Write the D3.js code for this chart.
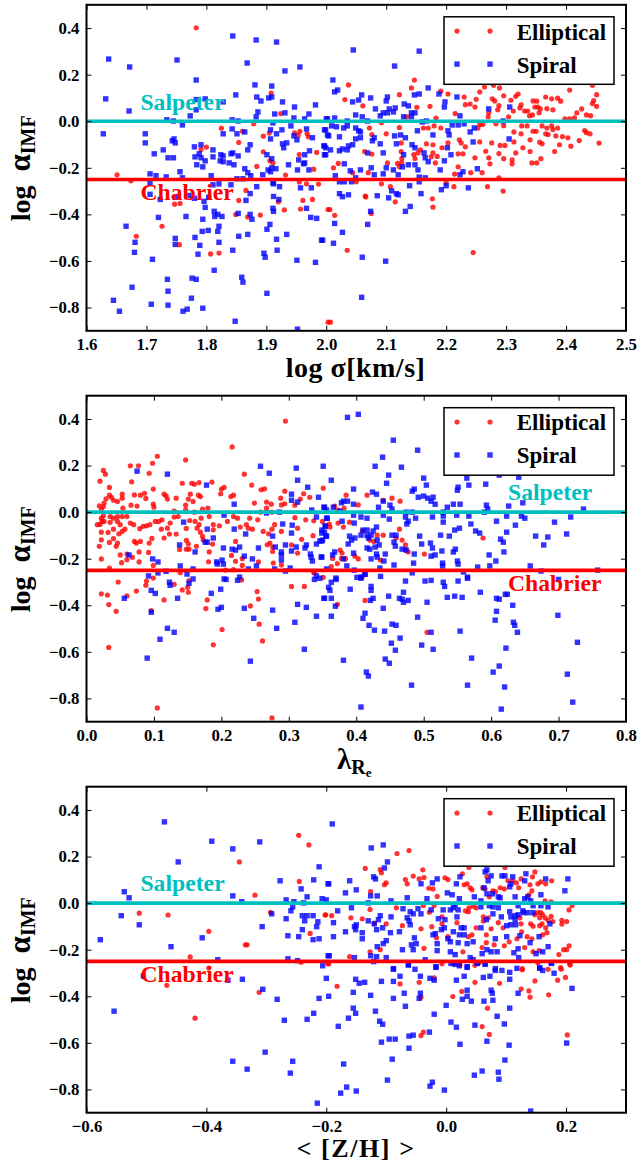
<!DOCTYPE html>
<html>
<head>
<meta charset="utf-8">
<script src="https://cdn.jsdelivr.net/npm/d3@7"></script>
<style>
  html, body { margin: 0; padding: 0; background: #fff; }
  text { font-family: "Liberation Serif", serif; font-weight: bold; fill: #000; }
</style>
</head>
<body>
<div id="chart"></div>
<script>
// values: [x, log alpha_IMF]
var sigmaSpiral = [[1.637,.267],[1.632,.096],[1.671,.044],[1.628,-.054],[1.751,.263],[1.672,.233],[1.783,.177],[1.783,.093],[1.783,.049],[1.773,.023],[1.734,.006],[1.745,.001],[1.76,-.016],[1.798,.096],[1.828,.083],[1.844,.366],[1.883,.349],[1.917,.34],[1.868,.25],[1.931,.216],[1.956,.233],[1.881,.156],[1.909,.151],[1.849,.113],[1.884,.104],[1.891,.087],[1.904,.1],[1.909,.104],[1.927,.083],[1.947,.061],[1.982,.07],[1.886,.04],[1.883,.019],[1.914,.031],[1.931,.036],[1.946,.014],[1.964,.01],[1.971,.031],[2,.01],[1.843,.006],[1.853,.001],[1.843,-.033],[1.828,-.054],[1.851,-.054],[1.864,-.046],[1.907,-.037],[1.911,-.007],[1.926,-.037],[1.917,-.054],[1.941,-.02],[1.967,-.033],[1.946,-.063],[1.951,-.08],[1.977,-.071],[1.997,-.037],[2.002,-.059],[1.907,-.076],[1.927,-.097],[1.934,-.093],[1.929,-.114],[1.698,-.054],[1.698,-.093],[1.746,-.076],[1.743,-.084],[1.748,-.093],[1.78,-.11],[1.791,-.101],[1.811,-.123],[1.713,-.14],[1.728,-.123],[1.736,-.157],[1.745,-.157],[1.781,-.153],[1.788,-.14],[1.791,-.157],[1.798,-.17],[1.784,-.187],[1.794,-.196],[1.811,-.153],[1.824,-.144],[1.828,-.149],[1.823,-.17],[1.828,-.174],[1.841,-.14],[1.844,-.136],[1.853,-.149],[1.846,-.187],[1.838,-.179],[1.873,-.101],[1.869,-.123],[1.901,-.144],[1.909,-.161],[1.937,-.187],[1.954,-.166],[1.972,-.127],[1.964,-.144],[1.964,-.179],[1.962,-.183],[1.952,-.209],[1.971,-.209],[1.996,-.106],[1.999,-.114],[1.997,-.144],[1.864,-.204],[1.869,-.221],[1.874,-.234],[1.894,-.23],[1.907,-.217],[1.903,-.209],[1.909,-.2],[1.916,-.204],[1.756,-.217],[1.706,-.226],[1.716,-.234],[1.733,-.239],[1.76,-.243],[1.808,-.234],[1.851,-.247],[1.861,-.247],[1.706,-.264],[1.811,-.273],[1.821,-.269],[1.841,-.273],[1.884,-.281],[1.911,-.264],[1.912,-.269],[1.922,-.281],[1.957,-.286],[1.975,-.286],[1.706,-.314],[1.873,-.311],[1.912,-.323],[1.921,-.336],[1.723,-.336],[1.77,-.319],[1.78,-.331],[1.796,-.344],[1.804,-.327],[1.748,-.327],[1.866,-.34],[1.798,-.37],[1.813,-.387],[1.819,-.4],[1.814,-.409],[1.826,-.409],[1.853,-.396],[1.873,-.4],[1.876,-.421],[1.911,-.374],[1.912,-.387],[1.967,-.374],[1.974,-.413],[1.984,-.417],[1.72,-.413],[1.766,-.409],[1.794,-.421],[1.666,-.451],[1.821,-.451],[1.819,-.473],[1.803,-.469],[1.793,-.473],[1.781,-.499],[1.789,-.533],[1.748,-.503],[1.748,-.529],[1.681,-.52],[1.68,-.563],[1.71,-.593],[1.821,-.52],[1.786,-.571],[1.854,-.494],[1.869,-.486],[1.906,-.443],[1.901,-.464],[1.917,-.507],[1.934,-.486],[1.992,-.511],[1.844,-.554],[1.918,-.554],[1.896,-.567],[1.898,-.584],[1.951,-.597],[1.982,-.606],[1.813,-.64],[1.735,-.679],[1.776,-.674],[1.783,-.679],[1.859,-.67],[1.861,-.691],[1.676,-.713],[1.736,-.73],[1.901,-.739],[1.645,-.769],[1.655,-.816],[1.708,-.786],[1.736,-.79],[1.775,-.76],[1.794,-.803],[1.768,-.807],[1.761,-.816],[1.848,-.859],[1.952,-.893],
[2.045,.306],[2.155,.301],[2.114,.237],[2.011,.177],[2.014,.126],[2.019,.134],[2.044,.083],[2.054,.091],[2.059,.113],[2.074,.1],[2.1,.087],[2.102,.104],[2.13,.074],[2.137,.066],[2.147,.113],[2.155,.117],[2.17,.143],[2.188,.117],[2.198,.083],[2.197,.061],[2.218,.104],[2.082,.053],[2.09,.023],[2.095,.036],[2.105,.053],[2.115,.057],[2.112,.04],[2.102,.036],[2.129,.019],[2.142,.036],[2.142,.019],[2.148,.036],[2.049,.027],[2.06,.019],[2.069,.001],[2.002,.01],[2.014,.014],[2.035,.001],[2.223,.023],[2.271,.053],[2.306,.061],[2.295,.001],[2.16,-.003],[2.167,.001],[2.009,-.02],[2.017,-.024],[1.999,-.037],[2.004,-.063],[2.029,-.029],[2.035,-.02],[2.049,-.029],[2.054,-.041],[2.057,-.046],[2.022,-.067],[2.049,-.076],[2.057,-.071],[2.044,-.101],[2.037,-.106],[2.077,-.084],[2.08,-.071],[2.09,-.097],[2.114,-.063],[2.124,-.059],[2.132,-.071],[2.117,-.097],[2.143,-.101],[2.148,-.114],[2.152,-.041],[2.178,-.059],[2.203,-.041],[2.205,-.059],[2.21,-.016],[2.22,-.016],[2.23,-.011],[2.247,-.029],[2.24,-.046],[2.202,-.114],[2.245,-.089],[2.305,-.076],[1.997,-.106],[1.999,-.144],[2.007,-.123],[2.022,-.127],[2.027,-.119],[2.035,-.123],[2.069,-.136],[2.095,-.136],[2.129,-.144],[2.163,-.136],[2.165,-.157],[2.17,-.174],[2.208,-.144],[2.197,-.17],[2.03,-.183],[2.04,-.213],[2.057,-.209],[2.075,-.2],[2.08,-.23],[2.095,-.226],[2.1,-.2],[2.112,-.209],[2.12,-.23],[2.127,-.196],[2.137,-.187],[2.148,-.187],[2.153,-.209],[2.19,-.209],[2.228,-.217],[2.223,-.23],[2.252,-.204],[2.155,-.24],[2.165,-.243],[2.015,-.234],[2.022,-.26],[2.03,-.26],[2.042,-.26],[2.049,-.243],[2.155,-.26],[2.139,-.277],[2.2,-.277],[2.237,-.286],[2.192,-.294],[2.109,-.299],[2.022,-.311],[2.027,-.324],[2.037,-.316],[2.085,-.32],[2.104,-.329],[2.117,-.311],[2.12,-.316],[2.158,-.311],[2.074,-.387],[2.14,-.366],[2.132,-.387],[2.014,-.439],[2.069,-.443],[2.027,-.477],[1.994,-.511],[2.012,-.524],[2.06,-.584],[2.099,-.601],[2.059,-.756]];

var sigmaElliptical = [[1.783,.401],[1.908,.121],[1.825,-.03],[1.86,-.043],[1.879,-.011],[1.905,-.051],[1.895,-.064],[1.924,.033],[1.947,-.05],[1.956,-.043],[1.953,-.061],[1.968,-.053],[1.97,-.067],[1.791,-.121],[1.8,-.111],[1.854,-.091],[1.895,-.131],[1.955,-.143],[1.984,-.134],[1.911,-.179],[1.906,-.17],[1.884,-.194],[1.979,-.206],[1.932,-.231],[1.651,-.23],[1.674,-.256],[1.955,-.261],[1.967,-.269],[1.987,-.27],[1.866,-.297],[1.747,-.356],[1.756,-.353],[1.854,-.34],[1.961,-.34],[1.977,-.336],[1.957,-.377],[1.93,-.381],[1.92,-.346],[2.003,-.379],[1.89,-.403],[1.849,-.401],[1.869,-.411],[1.726,-.451],[1.683,-.494],[1.755,-.53],[1.807,-.57],[1.821,-.566],[2.003,-.863],
[2.037,.156],[2.147,.177],[2.142,.143],[2.122,.114],[2.031,.093],[2.061,.066],[2.151,.06],[2.173,.064],[2.191,.129],[2.203,.117],[2.215,.033],[2.23,.104],[2.232,.071],[2.24,.074],[2.25,.094],[2.248,.061],[2.264,.147],[2.279,.154],[2.289,.143],[2.256,.126],[2.277,.096],[2.281,.087],[2.296,.109],[2.308,.09],[2.32,.117],[2.316,.107],[2.325,.07],[2.271,.036],[2.288,.067],[2.286,.049],[2.27,.019],[2.283,-.011],[2.345,.087],[2.351,.086],[2.366,.104],[2.376,.096],[2.386,.099],[2.391,.086],[2.406,.134],[2.444,.154],[2.451,.114],[2.446,.089],[2.444,.076],[2.451,.064],[2.426,.053],[2.418,.036],[2.378,.049],[2.368,.054],[2.353,.061],[2.348,.061],[2.357,.053],[2.355,.036],[2.331,.044],[2.336,.044],[2.312,.044],[2.323,.057],[2.339,.023],[2.344,.027],[2.304,.019],[2.398,.01],[2.406,.01],[2.414,.014],[2.434,.027],[2.441,.024],[2.183,.013],[2.092,-.006],[2.072,-.029],[2.122,-.027],[2.134,.019],[2.17,-.029],[2.18,-.02],[2.162,-.029],[2.191,-.029],[2.261,-.014],[2.256,-.014],[2.253,-.029],[2.296,-.019],[2.326,-.02],[2.335,-.02],[2.345,-.043],[2.35,-.043],[2.36,-.02],[2.368,-.029],[2.376,-.02],[2.386,-.029],[2.378,-.036],[2.37,-.057],[2.383,-.063],[2.366,-.054],[2.394,-.066],[2.403,-.071],[2.389,-.101],[2.408,-.107],[2.422,-.083],[2.431,-.04],[2.434,-.049],[2.44,-.054],[2.455,-.094],[2.381,-.13],[2.356,-.09],[2.36,-.097],[2.34,-.08],[2.325,-.054],[2.313,-.046],[2.313,-.089],[2.298,-.104],[2.29,-.104],[2.276,-.093],[2.34,-.13],[2.328,-.114],[2.316,-.136],[2.288,-.139],[2.266,-.129],[2.296,-.161],[2.31,-.166],[2.31,-.183],[2.271,-.157],[2.273,-.183],[2.248,-.157],[2.351,-.179],[2.358,-.161],[2.343,-.179],[2.228,-.14],[2.22,-.14],[2.222,-.08],[2.225,-.093],[2.232,-.11],[2.256,-.089],[2.203,-.093],[2.193,-.114],[2.185,-.151],[2.178,-.101],[2.178,-.136],[2.167,-.097],[2.157,-.123],[2.153,-.136],[2.146,-.143],[2.125,-.093],[2.125,-.13],[2.175,-.153],[2.182,-.179],[2.148,-.16],[2.126,-.161],[2.126,-.179],[2.119,-.181],[2.122,-.196],[2.102,-.179],[2.076,-.057],[2.1,-.054],[2.064,-.13],[2.076,-.141],[2.012,-.2],[2.02,-.181],[2.044,-.221],[2.07,-.221],[2.05,-.26],[2.092,-.269],[2.107,-.281],[2.065,-.321],[2.177,-.333],[2.213,-.281],[2.2,-.264],[2.214,-.227],[2.241,-.221],[2.26,-.221],[2.288,-.243],[2.269,-.281],[2.295,-.3],[2.22,-.196],[2.006,-.379],[2.014,-.404],[2.075,-.396],[2.035,-.554],[2.245,-.564],[2.007,-.863],[2.066,-.325],[2.115,-.346],[2.178,-.369]];

var lambdaSpiral = [[.075,.176],[.12,.163],[.178,.116],[.219,.034],[.258,.197],[.271,.167],[.311,.189],[.351,.197],[.313,.137],[.363,.137],[.328,.107],[.304,.077],[.304,.051],[.313,.043],[.344,.064],[.353,.021],[.334,.009],[.356,.009],[.204,-.013],[.267,-.004],[.286,0],[.341,-.021],[.356,-.026],[.144,-.043],[.179,-.073],[.219,-.073],[.236,-.094],[.291,-.051],[.305,-.056],[.304,-.09],[.354,-.06],[.349,-.077],[.353,-.086],[.356,-.103],[.276,-.103],[.188,-.111],[.176,-.129],[.179,-.129],[.138,-.141],[.203,-.154],[.161,-.171],[.216,-.159],[.221,-.163],[.227,-.15],[.255,-.154],[.28,-.15],[.295,-.141],[.311,-.15],[.324,-.154],[.326,-.141],[.341,-.137],[.346,-.124],[.35,-.12],[.289,-.171],[.304,-.167],[.234,-.189],[.246,-.201],[.289,-.184],[.289,-.206],[.332,-.18],[.333,-.193],[.335,-.21],[.349,-.193],[.063,-.184],[.098,-.201],[.106,-.214],[.193,-.214],[.201,-.206],[.194,-.223],[.203,-.223],[.139,-.231],[.252,-.231],[.158,-.244],[.24,-.244],[.279,-.244],[.302,-.24],[.356,-.244],[.092,-.274],[.106,-.261],[.118,-.254],[.149,-.266],[.158,-.287],[.227,-.279],[.204,-.287],[.295,-.253],[.341,-.274],[.123,-.301],[.124,-.314],[.152,-.306],[.207,-.289],[.224,-.293],[.338,-.289],[.346,-.284],[.359,-.323],[.096,-.336],[.102,-.349],[.185,-.349],[.199,-.331],[.056,-.37],[.135,-.37],[.195,-.417],[.2,-.409],[.234,-.413],[.276,-.421],[.313,-.396],[.326,-.409],[.353,-.37],[.096,-.43],[.248,-.456],[.341,-.447],[.309,-.473],[.12,-.499],[.13,-.516],[.282,-.499],[.109,-.546],[.323,-.589],[.09,-.627],[.243,-.64],
[.363,-.301],[.361,-.336],[.352,-.37],[.363,-.37],[.37,-.289],[.369,-.404],[.363,-.447],[.391,-.331],[.401,-.28],[.407,-.284],[.413,-.267],[.436,-.276],[.422,-.319],[.422,-.336],[.425,-.37],[.421,-.379],[.448,-.361],[.473,-.296],[.47,-.344],[.464,-.37],[.468,-.374],[.47,-.387],[.477,-.379],[.44,-.413],[.413,-.434],[.41,-.456],[.419,-.486],[.427,-.507],[.442,-.511],[.453,-.481],[.459,-.486],[.491,-.451],[.505,-.387],[.502,-.296],[.511,-.293],[.529,-.301],[.531,-.319],[.551,-.296],[.565,-.284],[.535,-.366],[.546,-.361],[.557,-.366],[.584,-.344],[.608,-.37],[.612,-.374],[.621,-.353],[.624,-.353],[.632,-.4],[.608,-.426],[.606,-.464],[.633,-.473],[.635,-.486],[.639,-.516],[.699,-.443],[.7,-.289],[.728,-.559],[.511,-.516],[.554,-.511],[.465,-.541],[.452,-.563],[.458,-.593],[.497,-.571],[.514,-.589],[.622,-.584],[.381,-.636],[.443,-.631],[.449,-.649],[.571,-.627],[.612,-.661],[.603,-.687],[.415,-.687],[.418,-.704],[.713,-.696],[.482,-.743],[.565,-.743],[.62,-.751],[.721,-.816],[.407,-.837],[.615,-.846],
[.387,.407],[.403,.42],[.455,.309],[.491,.266],[.439,.236],[.428,.197],[.467,.193],[.448,.159],[.445,.124],[.5,.146],[.504,.116],[.483,.09],[.486,.099],[.492,.064],[.5,.069],[.506,.06],[.514,.064],[.511,.047],[.517,.034],[.396,.099],[.424,.086],[.43,.077],[.44,.047],[.433,.021],[.45,.03],[.453,.013],[.551,.107],[.55,.094],[.567,.116],[.564,.146],[.592,.12],[.612,.159],[.641,.15],[.544,.034],[.554,.034],[.535,.021],[.593,.03],[.595,.013],[.626,.026],[.647,.04],[.737,.013],[.381,.047],[.387,.047],[.396,.034],[.378,.04],[.352,.021],[.366,.021],[.376,.004],[.474,0],[.483,0],[.529,0],[.59,0],[.549,-.013],[.567,-.017],[.513,-.021],[.529,-.017],[.488,-.026],[.473,-.021],[.477,-.039],[.475,-.051],[.407,-.021],[.416,-.026],[.44,-.013],[.449,-.03],[.396,-.013],[.397,-.047],[.379,-.039],[.357,-.026],[.354,-.06],[.529,-.043],[.553,-.069],[.546,-.077],[.57,-.051],[.577,-.081],[.583,-.09],[.608,-.039],[.623,-.017],[.636,-.056],[.645,-.017],[.65,-.026],[.694,-.043],[.718,-.021],[.712,-.094],[.684,-.107],[.666,-.103],[.623,-.086],[.614,-.116],[.618,-.129],[.678,-.141],[.525,-.099],[.538,-.103],[.494,-.103],[.51,-.133],[.497,-.137],[.513,-.154],[.527,-.167],[.544,-.171],[.547,-.159],[.55,-.21],[.551,-.223],[.517,-.184],[.511,-.189],[.486,-.18],[.597,-.184],[.619,-.171],[.607,-.21],[.598,-.231],[.58,-.236],[.528,-.219],[.528,-.231],[.485,-.219],[.658,-.231],[.674,-.253],[.758,-.249],[.559,-.257],[.565,-.279],[.483,-.261],[.41,-.077],[.407,-.099],[.416,-.077],[.425,-.081],[.416,-.099],[.422,-.099],[.418,-.111],[.43,-.064],[.39,-.103],[.393,-.12],[.398,-.111],[.388,-.137],[.416,-.154],[.42,-.159],[.428,-.15],[.434,-.141],[.431,-.12],[.453,-.099],[.459,-.099],[.456,-.129],[.458,-.146],[.468,-.159],[.474,-.163],[.443,-.18],[.43,-.18],[.431,-.193],[.422,-.201],[.441,-.21],[.456,-.227],[.435,-.24],[.396,-.176],[.381,-.201],[.365,-.184],[.368,-.171],[.386,-.231],[.397,-.249],[.413,-.266],[.407,-.279],[.37,-.283],[.349,-.09],[.355,-.103],[.349,-.124],[.348,-.193]];

var lambdaElliptical = [[.295,.391],[.216,.28],[.105,.24],[.098,.21],[.065,.199],[.077,.199],[.147,.224],[.025,.179],[.028,.163],[.093,.167],[.234,.163],[.02,.133],[.067,.13],[.142,.124],[.156,.124],[.16,.12],[.167,.127],[.186,.129],[.245,.116],[.034,.106],[.099,.099],[.2,.099],[.204,.106],[.259,.096],[.264,.1],[.294,.09],[.351,.103],[.053,.077],[.034,.073],[.037,.064],[.029,.057],[.026,.039],[.04,.051],[.046,.046],[.053,.06],[.071,.074],[.08,.073],[.086,.081],[.088,.059],[.115,.077],[.12,.056],[.118,.07],[.133,.06],[.154,.077],[.166,.073],[.169,.067],[.151,.056],[.158,.046],[.199,.079],[.214,.067],[.218,.073],[.249,.039],[.267,.043],[.274,.034],[.288,.06],[.294,.036],[.289,.031],[.309,.03],[.317,.056],[.322,.079],[.331,.064],[.019,.027],[.025,.024],[.022,.013],[.066,.03],[.075,.026],[.099,.034],[.1,.021],[.147,.03],[.054,.017],[.172,.013],[.18,.017],[.13,.004],[.147,.01],[.16,0],[.267,.017],[.258,0],[.275,0],[.016,-.054],[.02,-.053],[.025,-.016],[.022,-.026],[.023,-.04],[.026,-.04],[.035,-.019],[.046,-.019],[.04,-.026],[.035,-.044],[.046,-.04],[.053,-.019],[.06,-.019],[.065,-.047],[.07,-.054],[.05,-.054],[.04,-.073],[.057,-.073],[.053,-.083],[.048,-.093],[.022,-.086],[.032,-.087],[.04,-.114],[.046,-.133],[.044,-.147],[.034,-.13],[.022,-.119],[.019,-.147],[.071,-.126],[.074,-.133],[.08,-.126],[.093,-.133],[.097,-.113],[.079,-.071],[.084,-.061],[.089,-.059],[.094,-.054],[.102,-.04],[.107,-.04],[.112,-.033],[.124,-.047],[.111,-.073],[.12,-.069],[.115,-.111],[.123,-.094],[.133,-.094],[.13,-.021],[.136,-.019],[.153,-.036],[.161,-.04],[.17,-.026],[.182,-.019],[.167,-.054],[.169,-.086],[.172,-.104],[.164,-.069],[.188,-.054],[.197,-.059],[.188,-.076],[.209,-.04],[.218,-.019],[.224,-.026],[.228,-.064],[.237,-.054],[.24,-.069],[.242,-.026],[.246,-.073],[.254,-.033],[.262,-.083],[.27,-.093],[.279,-.054],[.275,-.073],[.289,-.083],[.309,-.024],[.313,-.069],[.325,-.033],[.337,-.037],[.336,-.101],[.319,-.117],[.148,-.07],[.148,-.121],[.151,-.136],[.138,-.16],[.148,-.159],[.152,-.159],[.163,-.147],[.173,-.119],[.187,-.137],[.182,-.171],[.221,-.126],[.268,-.14],[.272,-.133],[.276,-.15],[.276,-.169],[.304,-.141],[.313,-.176],[.215,-.186],[.221,-.211],[.231,-.2],[.05,-.184],[.052,-.217],[.06,-.18],[.06,-.204],[.068,-.194],[.078,-.214],[.078,-.171],[.092,-.173],[.022,-.201],[.099,-.229],[.181,-.213],[.255,-.214],[.277,-.219],[.289,-.227],[.231,-.229],[.139,-.26],[.206,-.249],[.218,-.247],[.034,-.24],[.337,-.259],[.047,-.3],[.022,-.351],[.031,-.356],[.06,-.36],[.074,-.339],[.089,-.296],[.088,-.314],[.099,-.283],[.033,-.397],[.044,-.426],[.033,-.581],[.13,-.31],[.115,-.377],[.142,-.334],[.15,-.323],[.151,-.344],[.152,-.294],[.096,-.423],[.179,-.377],[.177,-.414],[.23,-.291],[.253,-.341],[.255,-.373],[.243,-.403],[.256,-.481],[.261,-.553],[.201,-.504],[.188,-.57],[.304,-.319],[.323,-.319],[.351,-.28],[.338,-.261],[.105,-.841],[.275,-.884],
[.372,-.396],[.409,-.276],[.413,-.379],[.505,-.516],[.385,.073],[.416,.073],[.44,.051],[.453,.06],[.465,.047],[.368,.026],[.382,.017],[.403,.031],[.373,.009],[.35,-.04],[.36,-.051],[.361,-.064],[.373,-.047],[.381,-.064],[.39,-.043],[.409,-.081],[.464,-.073],[.431,-.099],[.44,-.099],[.459,-.111],[.468,-.12],[.42,-.12],[.426,-.126],[.473,-.141],[.473,-.161],[.477,-.171],[.501,-.18],[.436,-.206],[.588,-.111],[.376,-.163],[.379,-.176],[.378,-.199],[.384,-.2],[.398,-.189],[.403,-.201],[.365,-.199],[.372,-.221],[.363,-.234]];

var metalSpiral = [[-.47,.349],[-.391,.266],[-.356,.233],[-.311,.263],[-.447,.177],[-.212,.156],[-.277,.096],[-.221,.1],[-.242,.061],[-.197,.083],[-.537,.049],[-.529,.023],[-.356,.031],[-.341,.006],[-.267,.014],[-.254,.006],[-.232,.027],[-.207,.019],[-.2,.014],[-.238,.001],[-.256,-.016],[-.259,-.033],[-.542,-.054],[-.291,-.046],[-.24,-.054],[-.232,-.054],[-.222,-.054],[-.236,-.076],[-.267,-.067],[-.214,-.08],[-.512,-.093],[-.307,-.101],[-.216,-.101],[-.24,-.114],[-.264,-.14],[-.246,-.144],[-.222,-.157],[-.212,-.153],[-.577,-.157],[-.407,-.149],[-.459,-.187],[-.381,-.243],[-.264,-.239],[-.248,-.247],[-.206,-.269],[-.197,-.226],
[-.19,.34],[-.125,.237],[-.105,.25],[-.098,.177],[-.103,.151],[-.121,.113],[-.118,.104],[-.161,.096],[-.196,.083],[-.15,.057],[-.168,.044],[-.126,.031],[-.115,.031],[-.092,.01],[-.065,.023],[-.042,.083],[-.023,.087],[-.015,.104],[-.032,.019],[-.13,.001],[-.158,-.02],[-.181,-.033],[-.072,-.024],[-.055,-.046],[-.06,-.037],[-.047,-.024],[-.042,-.046],[-.025,-.029],[-.065,-.063],[-.11,-.054],[-.092,-.059],[-.113,-.071],[-.13,-.076],[-.12,-.089],[-.106,-.106],[-.15,-.093],[-.153,-.101],[-.188,-.084],[-.151,-.114],[-.14,-.127],[-.168,-.123],[-.116,-.114],[-.093,-.127],[-.078,-.123],[-.062,-.076],[-.06,-.093],[-.188,-.144],[-.14,-.153],[-.1,-.161],[-.105,-.174],[-.115,-.187],[-.053,-.149],[-.058,-.179],[-.05,-.174],[-.073,-.2],[-.055,-.2],[-.015,-.174],[-.015,-.204],[-.022,-.136],[-.018,-.131],[-.195,-.226],[-.153,-.234],[-.126,-.226],[-.116,-.23],[-.1,-.234],[-.035,-.243],[.007,-.209],[.015,-.221],[-.121,-.251],[-.063,-.264],[-.017,-.273],[-.088,-.281],[.023,.113],[.017,.083],[.002,.044],[.01,.036],[.022,.019],[.047,.027],[.063,.066],[.068,.143],[.065,.134],[.075,.117],[.07,.096],[.093,.117],[.098,.117],[.111,.113],[.108,.083],[.106,.07],[.131,.096],[.133,.126],[.166,.104],[.203,.104],[.198,.053],[.158,.036],[.136,.027],[.115,.027],[.068,.04],[.077,.04],[.087,.027],[.09,.023],[.058,.01],[.131,.019],[.141,.01],[.015,-.007],[-.005,-.029],[.012,-.02],[.007,-.029],[.02,-.029],[.058,-.016],[.072,-.011],[.078,-.016],[.087,-.02],[.078,-.046],[.106,-.037],[.12,-.011],[.128,-.033],[.129,-.041],[.136,-.041],[.145,-.041],[.145,-.011],[.158,-.011],[.17,-.016],[.108,-.059],[.115,-.054],[.12,-.05],[.115,-.071],[.116,-.093],[.108,-.093],[.101,-.097],[.092,-.059],[.067,-.071],[.058,-.106],[-.003,-.106],[-.013,-.067],[-.002,-.071],[.018,-.059],[.025,-.106],[.03,-.106],[.022,-.136],[.03,-.136],[.012,-.123],[-.008,-.114],[.003,-.153],[.007,-.166],[.02,-.17],[.035,-.174],[.045,-.166],[.082,-.153],[.101,-.144],[.123,-.14],[.155,-.144],[.14,-.17],[.17,-.187],[.161,-.209],[.15,-.217],[.173,-.089],[.068,-.2],[.075,-.209],[.085,-.209],[.06,-.217],[.12,-.196],[.113,-.213],[.04,-.234],[.121,-.234],[.045,-.243],[.052,-.256],[.013,-.256],[.022,-.269],[.035,-.273],[.065,-.26],[.082,-.281],[.175,-.256],[.156,-.277],
[-.554,-.464],[-.505,-.313],[-.364,-.331],[-.34,-.327],[-.306,-.37],[-.282,-.413],[-.27,-.503],[-.232,-.499],[-.221,-.473],[-.212,-.409],[-.196,-.4],[-.2,-.323],[-.302,-.64],[-.356,-.679],[-.332,-.713],[-.256,-.679],[-.26,-.73],[-.215,-.859],[-.151,-.327],[-.145,-.344],[-.136,-.34],[-.108,-.336],[-.088,-.336],[-.088,-.284],[-.077,-.314],[-.063,-.266],[-.052,-.284],[-.043,-.314],[-.017,-.276],[-.027,-.323],[-.02,-.331],[-.155,-.383],[-.126,-.396],[-.088,-.409],[-.07,-.387],[-.043,-.387],[-.045,-.409],[-.068,-.443],[-.155,-.451],[-.151,-.473],[-.118,-.464],[-.163,-.494],[-.111,-.507],[-.106,-.52],[-.18,-.529],[-.02,-.477],[-.108,-.597],[-.095,-.584],[-.085,-.584],[-.062,-.571],[-.055,-.567],[-.028,-.554],[-.062,-.623],[-.09,-.67],[-.171,-.691],[-.098,-.76],[-.166,-.79],[-.176,-.816],[-.15,-.807],[-.023,-.769],[-.027,-.786],[-.003,-.803],[.047,-.739],[.06,-.721],[.087,-.726],[.088,-.756],[.098,-.674],[.105,-.61],[.068,-.593],[.023,-.606],[.201,-.601],[.141,-.893],[.048,-.524],[.017,-.533],[.008,-.511],[.097,-.519],[.085,-.486],[.106,-.451],[0,-.439],[.027,-.413],[.035,-.4],[.035,-.374],[.042,-.421],[.063,-.421],[.078,-.417],[.075,-.374],[.077,-.387],[.12,-.387],[.21,-.366],[.017,-.331],[.03,-.314],[.062,-.319],[.073,-.314],[.082,-.289],[.093,-.289],[.106,-.297],[.106,-.327],[.118,-.28],[.156,-.28],[.161,-.289],[.18,-.301],[.176,-.259],[.008,-.259],[.015,-.263],[.035,-.276],[.052,-.259],[.065,-.263]];

var metalElliptical = [[-.246,.291],[-.229,.25],[-.345,.177],[-.245,.093],[-.319,.034],[-.512,-.043],[-.464,-.051],[-.293,-.04],[-.202,-.051],[-.396,-.121],[-.227,-.13],[-.332,-.179],[-.335,-.179],[-.427,-.231],[-.396,-.279],[-.242,-.254],[-.197,-.26],[-.466,-.353],[-.419,-.494],[-.312,-.383],[-.182,-.357],[-.077,-.347],[-.045,-.34],[-.02,-.321],[-.042,-.404],[-.038,-.554],[-.042,-.569],[-.007,-.26],[.023,-.266],[.048,-.267],[.048,-.34],[.089,-.344],[.011,-.401],[.026,-.379],[.125,-.369],[.138,-.377],[.14,-.404],[.148,-.334],[.127,-.286],[.17,-.284],[.192,-.284],[.186,-.331],[.199,-.319],[.207,-.266],[.171,-.394],[.069,-.451],[.06,-.53],[.072,-.564],[.202,-.566],
[-.082,.213],[-.062,.226],[-.135,.149],[-.11,.144],[-.108,.13],[-.103,.079],[-.1,.087],[-.068,.101],[-.065,.083],[-.055,.116],[-.045,.104],[-.039,.143],[-.037,.11],[-.029,.064],[-.022,.061],[-.126,.049],[-.015,.029],[-.002,.109],[.003,.101],[.027,.126],[.038,.153],[.098,.153],[.03,.079],[.035,.083],[.04,.066],[.043,.057],[.061,.066],[.065,.061],[.068,.113],[.078,.053],[.09,.066],[.097,.061],[.082,.049],[.103,.096],[.111,.096],[.117,.087],[.125,.104],[.121,.066],[.144,.113],[.148,.134],[.14,.079],[.153,.083],[.158,.091],[.166,.083],[.176,.096],[.143,.053],[.138,.036],[.165,.01],[.175,.006],[.21,-.01],[.205,-.029],[-.083,-.02],[-.127,-.027],[-.038,-.01],[-.028,-.039],[-.02,-.01],[-.191,-.054],[-.201,-.05],[-.159,-.063],[-.14,-.067],[-.12,-.086],[-.1,-.089],[-.073,-.097],[-.042,-.11],[-.024,-.101],[-.007,-.059],[-.007,-.089],[.018,-.084],[.032,-.033],[.038,-.02],[.045,-.013],[.05,-.02],[.037,-.037],[.062,-.059],[.062,-.077],[.07,-.063],[.05,-.106],[.043,-.136],[.037,-.144],[.067,-.136],[.075,-.11],[.087,-.084],[.095,-.106],[.123,-.063],[.125,-.089],[.141,-.089],[.145,-.099],[.148,-.05],[.153,-.041],[.158,-.041],[.161,-.05],[.156,-.063],[.165,-.063],[.17,-.074],[.175,-.057],[.178,-.079],[.16,-.089],[.156,-.097],[.166,-.106],[.168,-.127],[.161,-.136],[.193,-.074],[.201,-.079],[.193,-.09],[.126,-.123],[.135,-.144],[.143,-.153],[.118,-.153],[.105,-.166],[.067,-.17],[.06,-.191],[.08,-.179],[.097,-.183],[.131,-.191],[.145,-.209],[.155,-.204],[.205,-.183],[.201,-.2],[.196,-.2],[.188,-.221],[.028,-.209],[-.016,-.149],[.003,-.144],[-.037,-.194],[-.11,-.2],[-.127,-.209],[-.161,-.23],[-.196,-.26],[.055,-.256],[.127,-.281],[.153,-.256],[.191,-.277],[.206,-.26],[.072,.027]];

var imfTicks = [-0.8, -0.6, -0.4, -0.2, 0, 0.2, 0.4];
var sigmaTicks = [1.6, 1.7, 1.8, 1.9, 2.0, 2.1, 2.2, 2.3, 2.4, 2.5];
var lambdaTicks = [0, 0.1, 0.2, 0.3, 0.4, 0.5, 0.6, 0.7, 0.8];
var metalTicks = [-0.6, -0.4, -0.2, 0, 0.2];

var salpeter = 0, chabrier = -0.25;   // log alpha of the two IMFs

var width = 639, height = 1163;
var left = 86.5, right = 626, plotH = 326;

var svg = d3.select("#chart").append("svg")
    .attr("width", width)
    .attr("height", height)
    .style("display", "block");

var panels = [
    { top: 4.8, x: [1.6, 2.5], ticks: sigmaTicks, ell: sigmaElliptical, sp: sigmaSpiral, labelX: 1.69, imfY: [0.05, -0.34] },
    { top: 395.7, x: [0, 0.8], ticks: lambdaTicks, ell: lambdaElliptical, sp: lambdaSpiral, labelX: 0.625, imfY: [0.05, -0.34] },
    { top: 786.7, x: [-0.6, 0.3], ticks: metalTicks, ell: metalElliptical, sp: metalSpiral, labelX: -0.51, imfY: [0.05, -0.34] }
];

panels.forEach(function(p, i) {
    var g = svg.append("g").attr("transform", "translate(0," + p.top + ")");
    var x = d3.scaleLinear().domain(p.x).range([left, right]);
    var y = d3.scaleLinear().domain([0.5, -0.9]).range([0, plotH]);
    var clipId = "clip" + i;

    g.append("clipPath").attr("id", clipId).append("rect")
        .attr("x", left).attr("y", 0).attr("width", right - left).attr("height", plotH);

    var marks = g.append("g").attr("clip-path", "url(#" + clipId + ")");

    // elliptical first, spirals sit on top
    marks.selectAll("circle")
        .data(p.ell)
        .enter().append("circle")
        .attr("cx", function(d) { return x(d[0]); })
        .attr("cy", function(d) { return y(d[1]); })
        .attr("r", 2.6)
        .attr("fill", "#ff0000")
        .attr("fill-opacity", 0.8);

    marks.selectAll("rect")
        .data(p.sp)
        .enter().append("rect")
        .attr("x", function(d) { return x(d[0]) - 2.7; })
        .attr("y", function(d) { return y(d[1]) - 2.7; })
        .attr("width", 5.4)
        .attr("height", 5.4)
        .attr("fill", "#0000ff")
        .attr("fill-opacity", 0.8);

    // reference IMF lines
    g.append("line")
        .attr("x1", left).attr("x2", right)
        .attr("y1", y(salpeter)).attr("y2", y(salpeter))
        .attr("stroke", "#00bfbf").attr("stroke-width", 3.6);
    g.append("line")
        .attr("x1", left).attr("x2", right)
        .attr("y1", y(chabrier)).attr("y2", y(chabrier))
        .attr("stroke", "#ff0000").attr("stroke-width", 3.6);

    g.append("text").text("Salpeter")
        .attr("x", x(p.labelX)).attr("y", y(p.imfY[0]))
        .style("font-size", "23.7px").style("fill", "#00bfbf");
    g.append("text").text("Chabrier")
        .attr("x", x(p.labelX)).attr("y", y(p.imfY[1]))
        .style("font-size", "23.7px").style("fill", "#ff0000");

    // axes, ticks point inward on all four sides
    var xAxis = d3.axisBottom(x).tickValues(p.ticks).tickSize(-5).tickPadding(7).tickFormat(d3.format(".1f"));
    var yAxis = d3.axisLeft(y).tickValues(imfTicks).tickSize(-5).tickPadding(7).tickFormat(d3.format(".1f"));
    var xTop = d3.axisTop(x).tickValues(p.ticks).tickSize(-5).tickFormat("");
    var yRight = d3.axisRight(y).tickValues(imfTicks).tickSize(-5).tickFormat("");

    var axes = [
        g.append("g").attr("transform", "translate(0," + plotH + ")").call(xAxis),
        g.append("g").attr("transform", "translate(" + left + ",0)").call(yAxis),
        g.append("g").call(xTop),
        g.append("g").attr("transform", "translate(" + right + ",0)").call(yRight)
    ];
    axes.forEach(function(a) {
        a.selectAll(".domain").remove();
        a.selectAll("line").attr("stroke", "#000").attr("stroke-width", 1);
        a.selectAll("text").style("font-size", "16.8px").style("font-family", '"Liberation Serif", serif');
    });

    g.append("rect")
        .attr("x", left).attr("y", 0)
        .attr("width", right - left).attr("height", plotH)
        .attr("fill", "none").attr("stroke", "#000").attr("stroke-width", 2);

    // legend
    var legend = g.append("g").attr("transform", "translate(444,12)");
    legend.append("rect")
        .attr("width", 170).attr("height", 67.5)
        .attr("fill", "#fff").attr("stroke", "#000").attr("stroke-width", 1.5);
    [13, 46].forEach(function(cx) {
        legend.append("circle").attr("cx", cx).attr("cy", 14.3).attr("r", 2.6)
            .attr("fill", "#ff0000").attr("fill-opacity", 0.8);
        legend.append("rect").attr("x", cx - 2.7).attr("y", 44.6).attr("width", 5.4).attr("height", 5.4)
            .attr("fill", "#0000ff").attr("fill-opacity", 0.8);
    });
    legend.append("text").text("Elliptical").attr("x", 72.7).attr("y", 22.8).style("font-size", "23px");
    legend.append("text").text("Spiral").attr("x", 72.7).attr("y", 55.8).style("font-size", "23px");

    // y label
    var yl = g.append("text")
        .attr("transform", "translate(29.5," + (plotH / 2 + 0.5) + ") rotate(-90)")
        .attr("text-anchor", "middle")
        .style("font-size", "28px");
    yl.append("tspan").text("log\u00a0\u00a0");
    yl.append("tspan").text("\u03b1").style("font-size", "31px");
    yl.append("tspan").text("IMF").attr("dy", 5).style("font-size", "20px");
});

// x labels, one per panel
svg.append("text").text("log \u03c3[km/s]")
    .attr("x", 355.5).attr("y", 377).attr("text-anchor", "middle")
    .style("font-size", "28px").style("letter-spacing", "0.5px");

var lam = svg.append("text")
    .attr("x", 337).attr("y", 769);
lam.append("tspan").text("\u03bb").style("font-size", "29px");
lam.append("tspan").text("R").attr("dy", 5).style("font-size", "20px");
lam.append("tspan").text("e").attr("dy", 3).style("font-size", "13px");

svg.append("text").text("< [Z/H] >")
    .attr("x", 356).attr("y", 1157.2).attr("text-anchor", "middle")
    .style("font-size", "26px").style("letter-spacing", "1.6px");
</script>
</body>
</html>
